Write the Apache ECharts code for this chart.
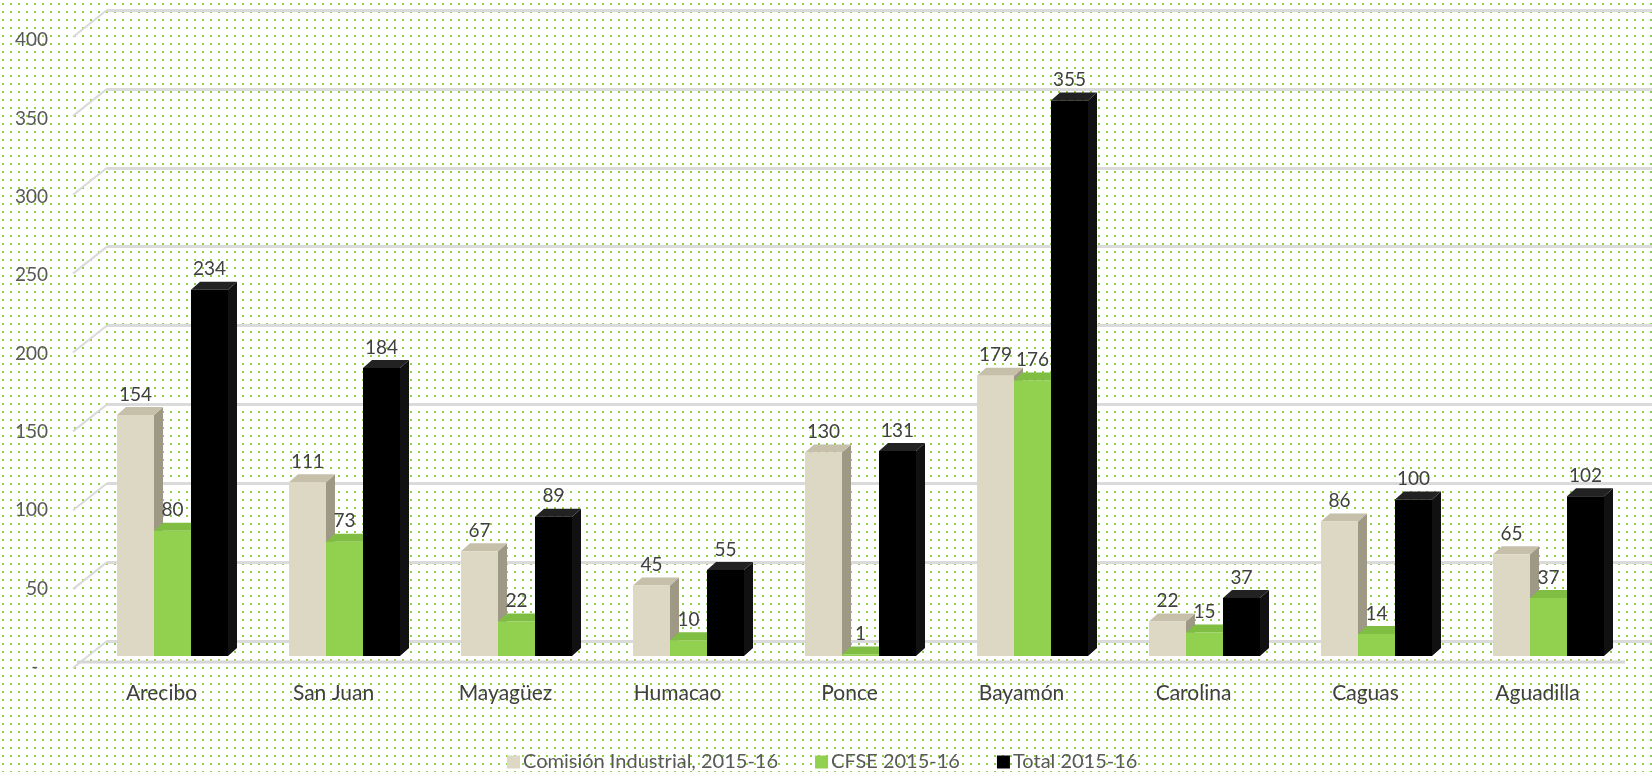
<!DOCTYPE html>
<html>
<head>
<meta charset="utf-8">
<script src="https://cdn.jsdelivr.net/npm/echarts@6/dist/echarts.min.js"></script>
<style>
  html, body { margin: 0; padding: 0; background: #fff; }
  #chart { width: 1652px; height: 772px; }
</style>
</head>
<body>
<div id="chart"></div>
<script>
const categories = ['Arecibo', 'San Juan', 'Mayagüez', 'Humacao', 'Ponce', 'Bayamón', 'Carolina', 'Caguas', 'Aguadilla'];
const comision = [154, 111, 67, 45, 130, 179, 22, 86, 65];
const cfse = [80, 73, 22, 10, 1, 176, 15, 14, 37];
const total = [234, 184, 89, 55, 131, 355, 37, 100, 102];
const yTicks = [0, 50, 100, 150, 200, 250, 300, 350, 400];
const seriesNames = ['Comisión Industrial, 2015-16', 'CFSE 2015-16', 'Total 2015-16'];

// fondo punteado verde
function dotPattern() {
  const c = document.createElement('canvas');
  c.width = 8; c.height = 8;
  const g = c.getContext('2d');
  g.fillStyle = '#ffffff';
  g.fillRect(0, 0, 8, 8);
  g.fillStyle = '#8fd04c';
  g.fillRect(2, 3, 2, 2);
  return c.toDataURL();
}
const dom = document.getElementById('chart');
dom.style.backgroundImage = 'url(' + dotPattern() + ')';

const FONT = 'Lato';
const barW = 37, dx = 9, dy = 8;
const offsets = [-26, 11, 48];
const faces = [
  { front: '#ddd8c3', side: '#9d9985', top: '#c6c0aa' },
  { front: '#92d050', side: '#6c9f39', top: '#7fbd43' },
  { front: '#000000', side: '#111111', top: '#222222' }
];

function barSeries(k, data) {
  return {
    name: seriesNames[k],
    type: 'custom',
    xAxisIndex: 2,
    yAxisIndex: 2,
    itemStyle: { color: faces[k].front },
    data: data.map((v, i) => [i, v]),
    renderItem(params, api) {
      const idx = api.value(0), val = api.value(1);
      const top = api.coord([idx, val]);
      const base = api.coord([idx, 0]);
      const x0 = top[0] + offsets[k] - barW / 2;
      const x1 = x0 + barW;
      const yT = top[1], yB = base[1];
      const f = faces[k];
      return {
        type: 'group',
        children: [
          { type: 'polygon', shape: { points: [[x1, yT], [x1 + dx, yT - dy], [x1 + dx, yB - dy], [x1, yB]] }, style: { fill: f.side } },
          { type: 'polygon', shape: { points: [[x0, yT], [x0 + dx, yT - dy], [x1 + dx, yT - dy], [x1, yT]] }, style: { fill: f.top } },
          { type: 'rect', shape: { x: x0, y: yT, width: barW, height: yB - yT }, style: { fill: f.front } },
          { type: 'text', style: { text: String(val), x: (x0 + x1) / 2, y: yT - dy - 3, align: 'center', verticalAlign: 'bottom', fill: '#404040', fontSize: 19, fontFamily: FONT } }
        ]
      };
    }
  };
}

const chart = echarts.init(dom, null, { renderer: 'canvas' });
const option = {
  backgroundColor: 'transparent',
  animation: false,
  legend: {
    left: 502,
    top: 747,
    icon: 'rect',
    itemWidth: 13,
    itemHeight: 13,
    itemGap: 37,
    textStyle: { color: '#595959', fontSize: 20, fontFamily: FONT, padding: [0, 0, 0, -2] },
    data: seriesNames
  },
  grid: [
    { left: 56, width: 10, top: 40, bottom: 105 },   // etiquetas del eje (frente)
    { left: 107, right: 0, top: 10, bottom: 131 },   // pared del fondo
    { left: 75.5, right: 28.5, top: 30, bottom: 116 } // barras
  ],
  xAxis: [
    { gridIndex: 0, type: 'value', show: false },
    { gridIndex: 1, type: 'value', min: 0, max: 1, show: false },
    {
      gridIndex: 2, type: 'category', data: categories,
      axisLine: { show: false }, axisTick: { show: false },
      axisLabel: { color: '#404040', fontSize: 21, fontFamily: FONT, margin: 27 }
    }
  ],
  yAxis: [
    {
      gridIndex: 0, type: 'value', min: 0, max: 400, interval: 50,
      axisLine: { show: false }, axisTick: { show: false }, splitLine: { show: false },
      axisLabel: {
        color: '#595959', fontSize: 19, fontFamily: FONT, margin: 8,
        formatter: v => (v === 0 ? '-  ' : String(v))
      }
    },
    {
      gridIndex: 1, type: 'value', min: 0, max: 400, interval: 50,
      axisLine: { show: false }, axisTick: { show: false }, axisLabel: { show: false },
      splitLine: { show: true, lineStyle: { color: '#dadada', width: 3 } }
    },
    { gridIndex: 2, type: 'value', min: 0, max: 400, show: false }
  ],
  series: [
    {
      type: 'custom',
      xAxisIndex: 1,
      yAxisIndex: 1,
      silent: true,
      data: yTicks.map(v => [0, v]),
      renderItem(params, api) {
        const v = api.value(1);
        const p = api.coord([0, v]);
        const kids = [
          { type: 'line', shape: { x1: p[0], y1: p[1], x2: p[0] - 34, y2: p[1] + 27 }, style: { stroke: '#d9d9d9', lineWidth: 2 } }
        ];
        if (v === 0) {
          kids.push({ type: 'line', shape: { x1: p[0] - 30, y1: p[1] + 21, x2: p[0] + 1518, y2: p[1] + 21 }, style: { stroke: '#d6d6d6', lineWidth: 3 } });
        }
        return { type: 'group', children: kids };
      }
    },
    barSeries(0, comision),
    barSeries(1, cfse),
    barSeries(2, total)
  ]
};
chart.setOption(option);
window.addEventListener('resize', chart.resize);
</script>
</body>
</html>
